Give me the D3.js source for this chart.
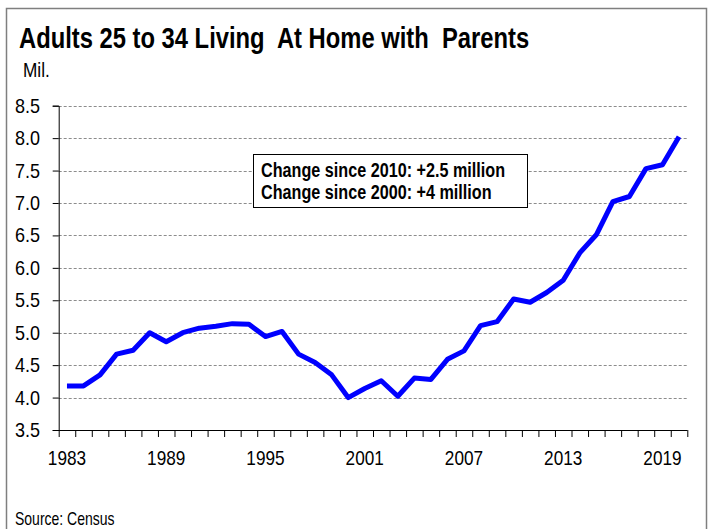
<!DOCTYPE html>
<html>
<head>
<meta charset="utf-8">
<script src="https://cdn.jsdelivr.net/npm/d3@7"></script>
<style>
  body { margin: 0; background: #fff; }
  text { font-family: "Liberation Sans", Arial, sans-serif; fill: #000; }
</style>
</head>
<body>
<div id="chart"></div>
<script>
// data (millions)
var years = d3.range(1983, 2021);
var adults = [4.18, 4.18, 4.35, 4.67, 4.73, 5.0, 4.86, 5.0, 5.07, 5.10,
              5.14, 5.13, 4.94, 5.02, 4.67, 4.54, 4.35, 4.0, 4.14, 4.26,
              4.02, 4.30, 4.28, 4.59, 4.72, 5.11, 5.17, 5.52, 5.47, 5.62,
              5.81, 6.23, 6.51, 7.02, 7.10, 7.53, 7.59, 8.02];
var yTicks = [3.5, 4.0, 4.5, 5.0, 5.5, 6.0, 6.5, 7.0, 7.5, 8.0, 8.5];
var xLabels = [1983, 1989, 1995, 2001, 2007, 2013, 2019];
var notes = ["Change since 2010: +2.5 million", "Change since 2000: +4 million"];

var width = 710, height = 529;
var squeeze = 0.82; // no narrow font installed, so squash Liberation Sans

var svg = d3.select("#chart").append("svg")
    .attr("width", width)
    .attr("height", height);

// narrow text helper: a group does the squeeze, the text sits at 0,0
function narrowText(parent, x, y, size, bold, sq)
{
    return parent.append("g")
        .attr("transform", "translate(" + x + "," + y + ") scale(" + (sq || squeeze) + ",1)")
        .append("text")
        .attr("font-size", size)
        .attr("font-weight", bold ? "bold" : "normal");
}

// outer frame
svg.append("rect")
    .attr("x", 6.5).attr("y", 8.5)
    .attr("width", 700).attr("height", 530)
    .attr("fill", "none")
    .attr("stroke", "#7f7f7f")
    .attr("stroke-width", 1.5);

narrowText(svg, 19, 48, 29, true)
    .style("white-space", "pre")
    .text("Adults 25 to 34 Living  At Home with  Parents");

narrowText(svg, 23, 77, 21, false).text("Mil.");

var x = d3.scaleLinear().domain([1982.5, 2020.5]).range([58.7, 687.3]);
var y = d3.scaleLinear().domain([3.5, 8.5]).range([430, 105.7]);

// gridlines
svg.append("g")
    .selectAll("line")
    .data(yTicks.filter(function(d) { return d > 3.5; }))
    .enter().append("line")
    .attr("x1", x(1982.5)).attr("x2", x(2020.5) + 1)
    .attr("y1", function(d) { return Math.round(y(d)) + 0.5; })
    .attr("y2", function(d) { return Math.round(y(d)) + 0.5; })
    .attr("stroke", "#8c8c8c")
    .attr("stroke-width", 1)
    .attr("stroke-dasharray", "3,2");

// y axis
var yAxis = svg.append("g")
    .attr("transform", "translate(" + x(1982.5) + ",0)")
    .call(d3.axisLeft(y).tickValues(yTicks).tickSize(6).tickFormat(""));
yAxis.selectAll("line,path").attr("stroke", "#000");

yTicks.forEach(function(d)
{
    narrowText(svg, 40, y(d) + 7, 20, false, 0.9)
        .attr("text-anchor", "end")
        .text(d3.format(".1f")(d));
});

// x axis: ticks between categories
var xAxis = svg.append("g")
    .attr("transform", "translate(0," + y(3.5) + ")")
    .call(d3.axisBottom(x).tickValues(d3.range(1982.5, 2021, 1)).tickSize(7).tickFormat(""));
xAxis.selectAll("line,path").attr("stroke", "#000");
xAxis.select(".domain").attr("d", "M" + x(1982.5) + ",0.5H" + x(2020.5));

xLabels.forEach(function(d)
{
    narrowText(svg, x(d), 465, 20, false, 0.86)
        .attr("text-anchor", "middle")
        .text(d);
});

// the series
var line = d3.line()
    .x(function(d, i) { return x(years[i]); })
    .y(function(d) { return y(d); });

svg.append("path")
    .datum(adults)
    .attr("d", line)
    .attr("fill", "none")
    .attr("stroke", "#0000ff")
    .attr("stroke-width", 5)
    .attr("stroke-linejoin", "round");

// annotation box
svg.append("rect")
    .attr("x", 253.5).attr("y", 154.5)
    .attr("width", 274).attr("height", 53)
    .attr("fill", "#fff")
    .attr("stroke", "#000")
    .attr("stroke-width", 1);

notes.forEach(function(d, i)
{
    narrowText(svg, 261, 177 + i * 21.5, 19.5, true, 0.83).text(d);
});

narrowText(svg, 15, 525, 17.5, false, 0.8).text("Source: Census");
</script>
</body>
</html>
